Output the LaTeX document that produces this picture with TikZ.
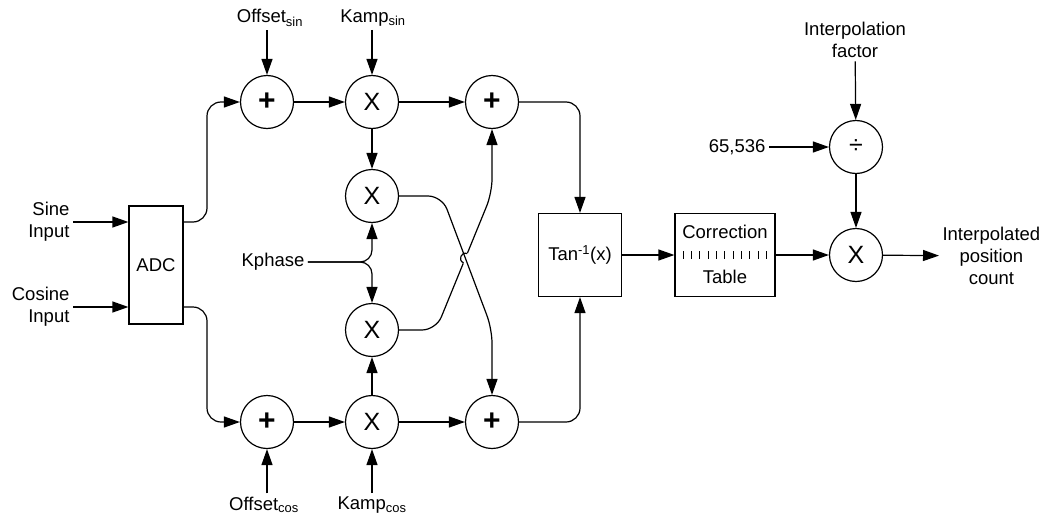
\documentclass[tikz,border=0pt]{standalone}
\usepackage{fontspec}
\setmainfont{Liberation Sans}
\usetikzlibrary{arrows.meta}

\begin{document}
\begin{tikzpicture}[x=1pt,y=-1pt,font=\fontsize{18.5}{22}\selectfont,
  op/.style={circle,draw,line width=1.2pt,minimum size=53pt,inner sep=0pt,font=\fontsize{25}{25}\selectfont},
  sum/.style={op,font=\fontsize{30}{30}\selectfont\bfseries},
  blk/.style={draw,line width=1.2pt,inner sep=0pt,align=center},
  lbl/.style={align=center},
  edge/.style={-{Triangle[length=16pt,width=11pt]},line width=1.2pt},
  wire/.style={line width=1.2pt}]
\useasboundingbox (0,0) rectangle (1046,519);
\node[blk,minimum width=54pt,minimum height=118pt] (adc) at (156,265) {ADC};
\node[lbl,anchor=east,align=right] (sin) at (73,222) {Sine\\Input};
\node[lbl,anchor=east,align=right] (cos) at (73,307) {Cosine\\Input};
\node[sum] (sa) at (267,102) {+};
\node[op] (ma) at (372,102) {X};
\node[sum] (sc) at (492,102) {+};
\node[op] (mb) at (372,196) {X};
\node[op] (mc) at (372,330) {X};
\node[sum] (sb) at (267,422) {+};
\node[op] (md) at (372,422) {X};
\node[sum] (sd) at (492,422) {+};
\node[lbl] (osin) at (270,18) {Offset\textsubscript{sin}};
\node[lbl] (ksin) at (373,18) {Kamp\textsubscript{sin}};
\node[lbl] (ocos) at (264,505) {Offset\textsubscript{cos}};
\node[lbl] (kcos) at (372,505) {Kamp\textsubscript{cos}};
\node[lbl] (kph) at (273,262) {Kphase};
\node[blk,minimum width=83pt,minimum height=83pt] (tan) at (580,255) {Tan\textsuperscript{-1}(x)};
\node[blk,minimum width=100pt,minimum height=83pt] (cor) at (725,255) {};
\node[lbl] (cor1) at (725,232) {Correction};
\node[lbl] (cor2) at (725,277) {Table};
\node[op] (dv) at (856,147) {÷};
\node[op] (fx) at (856,255) {X};
\node[lbl,anchor=east] (num) at (769,147) {65,536};
\node[lbl] (ipf) at (855,40) {Interpolation\\factor};
\node[lbl,anchor=west] (out) at (939,256) {Interpolated\\position\\count};
\draw[edge] (sin.east) -- (sin.east -| adc.west);
\draw[edge] (cos.east) -- (cos.east -| adc.west);
\draw[edge,rounded corners=14pt] (adc.east |- sin.east) -- (207,222) |- (sa.west);
\draw[edge,rounded corners=14pt] (adc.east |- cos.east) -- (207,307) |- (sb.west);
\draw[edge] (osin.south -| sa) -- (sa.north);
\draw[edge] (ksin.south -| ma) -- (ma.north);
\draw[edge] (ocos.north -| sb) -- (sb.south);
\draw[edge] (kcos.north -| md) -- (md.south);
\draw[edge] (sa) -- (ma);
\draw[edge] (ma) -- (sc);
\draw[edge] (sb) -- (md);
\draw[edge] (md) -- (sd);
\draw[edge] (ma) -- (mb);
\draw[edge] (md) -- (mc);
\draw[edge,rounded corners=12pt] (kph.east) -| (mb.south);
\draw[edge,rounded corners=12pt] (kph.east) -| (mc.north);
\draw[edge,rounded corners=14pt] (mc.east) -- (436,330) -- (492,193) -- (sc.south);
\draw[white,line width=3pt] (463.3,263.3) -- (467.5,253.1);
\draw[edge,rounded corners=14pt] (mb.east) -- (442,196) -- (492,329) -- (sd.north);
\draw[wire] (463.5,262.8) .. controls +(-6,-2.5) and +(-6,-2.5) .. (467.3,253.6);
\draw[edge,rounded corners=14pt] (sc.east) -| (tan.north);
\draw[edge,rounded corners=14pt] (sd.east) -| (tan.south);
\draw[edge] (tan) -- (cor);
\foreach \i in {0,...,10}
  \draw[line width=1pt] (683.3+8.33*\i,251) -- ++(0,8.3);
\draw[edge] (cor) -- (fx);
\draw[edge] (num) -- (dv);
\draw[edge] (ipf) -- (dv);
\draw[edge] (dv) -- (fx);
\draw[edge] (fx) -- (out);
\end{tikzpicture}
\end{document}
